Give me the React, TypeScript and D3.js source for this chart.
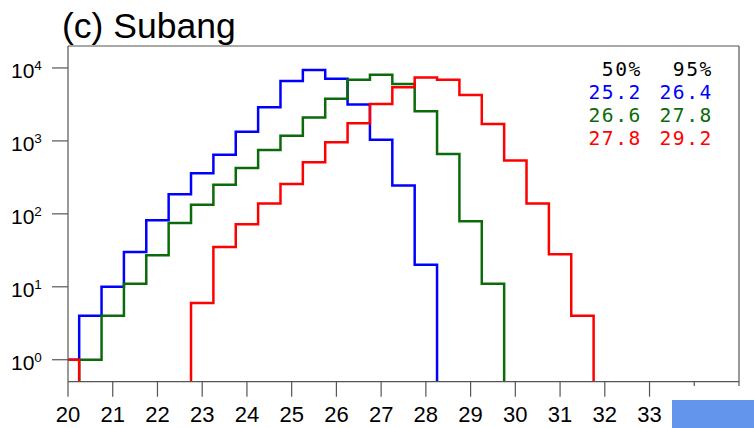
import React from "react";
import * as d3 from "d3";

// Bin centres (°C), bin width 0.5
const binCenters = [
  20, 20.5, 21, 21.5, 22, 22.5, 23, 23.5, 24, 24.5, 25, 25.5, 26, 26.5, 27,
  27.5, 28, 28.5, 29, 29.5, 30, 30.5, 31, 31.5, 32,
];
const binWidth = 0.5;

// Counts per bin for each scenario
const countsBlue = [
  1, 4, 10, 30, 82, 185, 360, 645, 1340, 2900, 6600, 9400, 7100, 3150, 1040,
  244, 20, 0, 0, 0, 0, 0, 0, 0, 0,
];
const countsGreen = [
  0, 1, 4, 11, 27, 75, 133, 250, 426, 750, 1180, 2100, 3770, 6870, 8040, 6050,
  2560, 664, 79, 11, 0, 0, 0, 0, 0,
];
const countsRed = [
  1, 0, 0, 0, 0, 0, 6, 35, 72, 139, 257, 509, 956, 1740, 3200, 5430, 7400,
  6870, 4270, 1710, 537, 139, 28, 4, 0,
];

const seriesColors = ["#0000ff", "#0b6b0b", "#ff0000"];

// Percentile table
const pctHeaders = ["50%", "95%"];
const pct50 = ["25.2", "26.6", "27.8"];
const pct95 = ["26.4", "27.8", "29.2"];

const xTicks = [20, 21, 22, 23, 24, 25, 26, 27, 28, 29, 30, 31, 32, 33, 34, 35];
const xLabelMax = 33;
const yExponents = [0, 1, 2, 3, 4];

const title = "(c) Subang";

const W = 754;
const H = 428;
const left = 68;
const right = 739;
const top = 46;
const bottom = 381.7;

export default function App() {
  const x = d3.scaleLinear().domain([20, 35]).range([left, right]);
  const y = d3.scaleLog().domain([0.5, 20000]).range([bottom, top]);

  const stepLine = d3
    .line<[number, number]>()
    .x((d) => x(d[0]))
    .y((d) => y(d[1] > 0 ? d[1] : 0.05))
    .curve(d3.curveStepAfter);

  const makePath = (counts: number[]) => {
    const pts: [number, number][] = binCenters.map((c, i) => [
      c - binWidth / 2,
      counts[i],
    ]);
    const last = binCenters.length - 1;
    pts.push([binCenters[last] + binWidth / 2, counts[last]]);
    return stepLine(pts) || "";
  };

  const series = [countsBlue, countsGreen, countsRed];
  const axisColor = "#555";
  const sans = "'Liberation Sans', Arial, Helvetica, sans-serif";
  const mono = "'DejaVu Sans Mono', monospace";
  const rowGap = 23;

  return (
    <svg
      width={W}
      height={H}
      style={{ position: "absolute", left: 0, top: 0, background: "#fff" }}
    >
      <defs>
        <clipPath id="plotClip">
          <rect x={left} y={top} width={right - left} height={bottom - top} />
        </clipPath>
      </defs>
      <rect x={0} y={0} width={W} height={H} fill="#fff" />

      <text x={62} y={37.5} fontFamily={sans} fontSize={35.5} fill="#000">
        {title}
      </text>

      {/* histogram step lines */}
      <g clipPath="url(#plotClip)">
        {series.map((s, i) => (
          <path
            key={i}
            d={makePath(s)}
            fill="none"
            stroke={seriesColors[i]}
            strokeWidth={2.5}
            strokeLinejoin="miter"
          />
        ))}
      </g>

      {/* frame */}
      <line x1={left} x2={right} y1={top} y2={top} stroke={axisColor} strokeWidth={1.2} />
      <line x1={right} x2={right} y1={top} y2={bottom} stroke={axisColor} strokeWidth={1.2} />
      <line x1={left} x2={left} y1={top} y2={bottom} stroke={axisColor} strokeWidth={1.2} />
      <line x1={left} x2={right} y1={bottom} y2={bottom} stroke={axisColor} strokeWidth={1.2} />

      {/* x axis ticks */}
      {xTicks.map((t) => (
        <g key={t}>
          <line
            x1={x(t)}
            x2={x(t)}
            y1={bottom}
            y2={bottom + 15}
            stroke={axisColor}
            strokeWidth={1.2}
          />
          {t <= xLabelMax && (
            <text
              x={x(t)}
              y={422}
              textAnchor="middle"
              fontFamily={sans}
              fontSize={22}
              fill="#000"
            >
              {t}
            </text>
          )}
        </g>
      ))}

      {/* y axis ticks */}
      {yExponents.map((e) => {
        const ty = y(Math.pow(10, e));
        return (
          <g key={e}>
            <line
              x1={left - 16}
              x2={left}
              y1={ty}
              y2={ty}
              stroke={axisColor}
              strokeWidth={1.2}
            />
            <text x={11} y={ty + 10} fontFamily={sans} fontSize={21} fill="#000">
              10
              <tspan dy={-8} fontSize={13.5}>
                {e}
              </tspan>
            </text>
          </g>
        );
      })}

      {/* percentile table */}
      <g fontFamily={mono} fontSize={19.6} letterSpacing={1.6}>
        <text x={642} y={76} textAnchor="end" fill="#000">
          {pctHeaders[0]}
        </text>
        <text x={713} y={76} textAnchor="end" fill="#000">
          {pctHeaders[1]}
        </text>
        {pct50.map((v, i) => (
          <g key={i}>
            <text
              x={642}
              y={76 + (i + 1) * rowGap}
              textAnchor="end"
              fill={seriesColors[i]}
            >
              {v}
            </text>
            <text
              x={713}
              y={76 + (i + 1) * rowGap}
              textAnchor="end"
              fill={seriesColors[i]}
            >
              {pct95[i]}
            </text>
          </g>
        ))}
      </g>

      {/* bottom-right panel */}
      <rect x={672} y={386} width={W - 672} height={14} fill="#fff" />
      <rect x={672} y={400} width={W - 672} height={H - 400} fill="#6495ed" />
    </svg>
  );
}
